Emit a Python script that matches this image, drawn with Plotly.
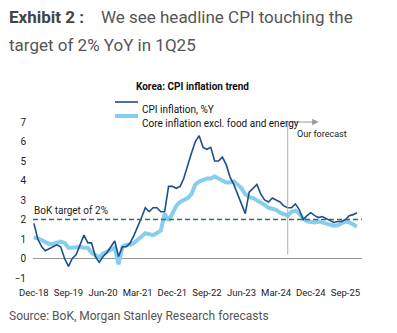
import pandas as pd
import plotly.graph_objects as go

# Monthly observations + forecasts, Dec-18 .. Dec-25
months = pd.date_range("2018-12-01", periods=85, freq="MS")

cpi = [1.8, 1.0, 0.6, 0.4, 0.5, 0.6, 0.7, 0.6, 0.0, -0.4, 0.0, 0.2, 0.7,
       1.2, 0.8, 0.8, 0.1, -0.2, 0.1, 0.3, 0.6, 0.9, 0.1, 0.6, 0.6,
       0.8, 1.2, 1.6, 2.1, 2.6, 2.4, 2.6, 2.6, 2.4, 2.4, 3.7, 3.7,
       3.6, 3.7, 4.1, 4.8, 5.4, 6.0, 6.3, 5.7, 5.6, 5.7, 5.0, 5.0,
       5.2, 4.8, 4.2, 3.8, 3.3, 2.7, 2.3, 3.4, 3.6, 3.8, 3.3, 3.0,
       2.9, 3.1, 3.0, 2.9, 2.7, 2.6, 2.6, 2.8, 2.5, 2.0, 2.2, 2.35,
       2.2, 2.1, 2.15, 2.05, 1.95, 1.85, 1.9, 1.9, 2.0, 2.2, 2.25, 2.35]

core = [1.1, 1.05, 0.95, 0.85, 0.75, 0.75, 0.8, 0.87, 0.8, 0.55, 0.55, 0.6, 0.6,
        0.55, 0.55, 0.3, 0.15, 0.05, 0.25, 0.35, 0.45, 0.55, -0.3, 0.6, 0.7,
        0.7, 0.8, 0.95, 1.1, 1.3, 1.25, 1.2, 1.3, 1.45, 2.3, 1.95, 2.3,
        2.7, 2.9, 3.0, 3.1, 3.3, 3.8, 3.95, 4.05, 4.1, 4.1, 4.2, 4.1,
        4.0, 3.9, 3.9, 3.95, 3.8, 3.6, 3.3, 3.15, 3.1, 3.0, 2.85, 2.75,
        2.6, 2.55, 2.5, 2.35, 2.25, 2.2, 2.4, 2.45, 2.3, 2.05, 1.9, 1.85,
        1.85, 1.9, 1.85, 1.78, 1.75, 1.68, 1.7, 1.8, 1.9, 1.85, 1.72, 1.64]

tick_dates = ["2018-12-01", "2019-09-01", "2020-06-01", "2021-03-01", "2021-12-01",
              "2022-09-01", "2023-06-01", "2024-03-01", "2024-12-01", "2025-09-01"]
tick_labels = ["Dec-18", "Sep-19", "Jun-20", "Mar-21", "Dec-21",
               "Sep-22", "Jun-23", "Mar-24", "Dec-24", "Sep-25"]
y_ticks = [-1, 0, 1, 2, 3, 4, 5, 6, 7]

target = 2.0
forecast_start = "2024-06-01"
forecast_arrow_end = "2025-02-01"

FONT = "Roboto, sans-serif"
DARK = "#1d4f8a"
LIGHT = "#86cdee"

fig = go.Figure()
fig.add_trace(go.Scatter(x=months, y=core, mode="lines",
                         line=dict(color=LIGHT, width=4), showlegend=False))
fig.add_trace(go.Scatter(x=months, y=cpi, mode="lines",
                         line=dict(color=DARK, width=1.6), showlegend=False))

# zero line and BoK target line
fig.add_shape(type="line", xref="paper", x0=0, x1=1, yref="y", y0=0, y1=0,
              line=dict(color="#999999", width=1), layer="below")
fig.add_shape(type="line", xref="paper", x0=0, x1=1, yref="y", y0=target, y1=target,
              line=dict(color="#3c6b66", width=1.6, dash="5px,3px"), layer="above")
fig.add_annotation(x="2019-09-20", y=target, yshift=9, text="BoK target of 2%",
                   showarrow=False, font=dict(family=FONT, size=10, color="#222"))

# forecast marker
fig.add_shape(type="line", x0=forecast_start, x1=forecast_start, y0=0.2, y1=7,
              line=dict(color="#b0b0b0", width=1))
fig.add_annotation(x=forecast_arrow_end, y=7, ax=forecast_start, ay=7,
                   axref="x", ayref="y", xref="x", yref="y", text="",
                   showarrow=True, arrowhead=2, arrowsize=1.3, arrowwidth=1,
                   arrowcolor="#999999")
fig.add_annotation(x="2025-03-01", y=6.4, text="Our forecast", showarrow=False,
                   font=dict(family=FONT, size=9, color="#222"))

# chart title + legend
fig.add_annotation(xref="paper", yref="paper", x=(192 - 33) / 329, y=1 + (122 - 79) / 156,
                   text="<b>Korea: CPI inflation trend</b>", showarrow=False,
                   font=dict(family=FONT, size=10, color="#111"))
leg = [("CPI inflation, %Y", DARK, 1.6, 102), ("Core inflation excl. food and energy", LIGHT, 4, 116)]
for name, col, w, py in leg:
    yy = 1 + (122 - py) / 156
    fig.add_shape(type="line", xref="paper", yref="paper",
                  x0=(115 - 33) / 329, x1=(138 - 33) / 329, y0=yy, y1=yy,
                  line=dict(color=col, width=w))
    fig.add_annotation(xref="paper", yref="paper", x=(140 - 33) / 329, y=yy,
                       xanchor="left", text=name, showarrow=False,
                       font=dict(family=FONT, size=10, color="#111"))

# page title and source
fig.add_annotation(xref="paper", yref="paper", x=-26 / 329, y=1 + (122 - 17) / 156,
                   xanchor="left", yanchor="middle", showarrow=False,
                   text="<b>Exhibit 2 :</b>    <span style='color:#555'>We see headline CPI touching the</span>",
                   font=dict(family="Roboto", size=17, color="#444"))
fig.add_annotation(xref="paper", yref="paper", x=-26 / 329, y=1 + (122 - 45) / 156,
                   xanchor="left", yanchor="middle", showarrow=False,
                   text="target of 2% YoY in 1Q25",
                   font=dict(family="Roboto", size=17, color="#555"))
fig.add_annotation(xref="paper", yref="paper", x=-26 / 329, y=1 - (316 - 122) / 156,
                   xanchor="left", yanchor="middle", showarrow=False,
                   text="Source: BoK, Morgan Stanley Research forecasts",
                   font=dict(family="Roboto", size=12, color="#555"))

fig.update_layout(
    width=397, height=333,
    margin=dict(l=33, r=35, t=122, b=55),
    paper_bgcolor="white", plot_bgcolor="white",
    font=dict(family=FONT, size=10, color="#222"),
    xaxis=dict(type="date", range=["2018-11-24", "2026-01-10"], tickvals=tick_dates,
               ticktext=tick_labels, tickangle=0, showgrid=False, zeroline=False,
               showline=False, ticks="", ticklabelstandoff=7,
               tickfont=dict(family=FONT, size=9.5, color="#222")),
    yaxis=dict(range=[-1, 7], tickvals=y_ticks, showgrid=False, zeroline=False,
               showline=False, ticks="", ticklabelstandoff=6,
               tickfont=dict(family=FONT, size=10, color="#222")),
)
fig.write_html("out.html")
